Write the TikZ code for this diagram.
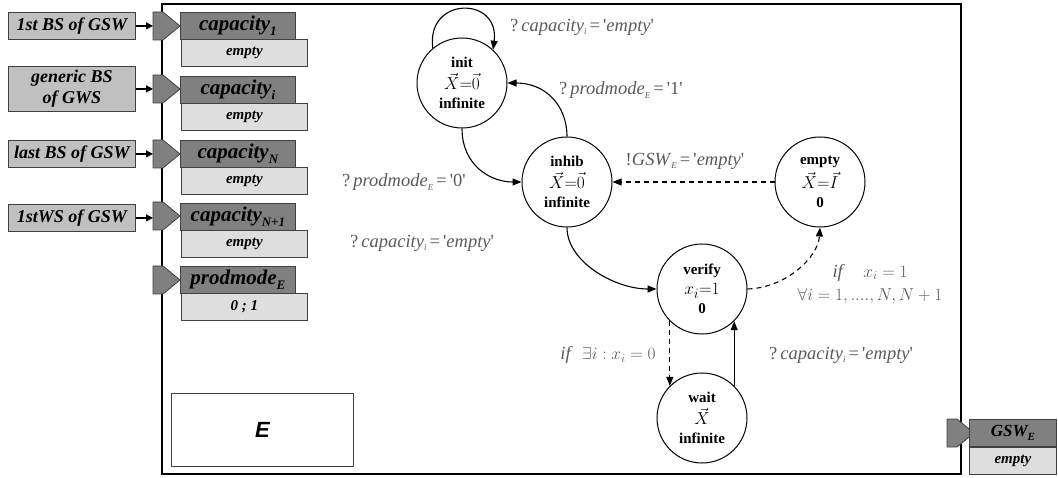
\documentclass[tikz,border=0pt]{standalone}
\usepackage{fontspec}
\setmainfont{Liberation Serif}
\newfontfamily\arialfont{Liberation Sans}
\newfontfamily\qfont{Liberation Serif}[Ligatures=TeXOff]
\usetikzlibrary{arrows.meta}
\definecolor{inboxcol}{HTML}{C0C0C0}
\definecolor{darkcol}{HTML}{808080}
\definecolor{lightcol}{HTML}{DEDEDE}
\definecolor{bordcol}{HTML}{404040}
\definecolor{labcol}{HTML}{5A5A5A}
\newcommand\lsub[2][9]{\raisebox{-0.45ex}{\fontsize{#1}{#1}\selectfont #2}}
\newcommand\sq{{\qfont\upshape'}}
\newcommand\stmath[1]{{\fontsize{19}{19}\selectfont$#1$}}
\newcommand\portshape[2]{%
  \filldraw[fill=darkcol,draw=bordcol,line width=0.8pt] (#1,#2) -- ++(10,0) -- ++(17,14) -- ++(-17,14) -- ++(-10,0) -- cycle;}
\tikzset{
  inbox/.style={draw=bordcol,line width=0.8pt,fill=inboxcol,anchor=north west,inner sep=0pt,minimum width=127pt,align=center,
    font=\fontsize{18}{21}\selectfont\bfseries\itshape},
  darkbox/.style={draw=bordcol,line width=0.8pt,fill=darkcol,anchor=north west,inner sep=0pt,minimum height=27pt,
    font=\fontsize{21}{22}\selectfont\bfseries\itshape},
  lightbox/.style={draw=bordcol,line width=0.8pt,fill=lightcol,anchor=north west,inner sep=0pt,minimum height=27pt,
    font=\fontsize{15}{17}\selectfont\bfseries\itshape},
  state/.style={draw,circle,line width=1pt,minimum size=90pt,inner sep=0pt,align=center,
    font=\fontsize{15}{19}\selectfont},
  inarrow/.style={line width=1.5pt,-{Triangle[length=7pt,width=7pt]}},
  tr/.style={line width=1.1pt,-{Triangle[length=9pt,width=7pt]}},
  trd/.style={tr,dash pattern=on 5pt off 4pt},
  lab/.style={text=labcol,inner sep=0pt,font=\fontsize{18.5}{23}\selectfont,align=center}
}
\begin{document}
\begin{tikzpicture}[x=1pt,y=-1pt]
\useasboundingbox (0,0) rectangle (1058,478);
% main frame
\draw[line width=2pt] (162,4) rectangle (961,474);
% input boxes
\node[inbox,minimum height=27pt] (in1) at (8,12) {1st BS of GSW};
\node[inbox,minimum height=45pt] (in2) at (8,66) {generic BS\\of GWS};
\node[inbox,minimum height=27pt] (in3) at (8,140) {last BS of GSW};
\node[inbox,minimum height=27pt] (in4) at (8,204) {1stWS of GSW};
% ports
\portshape{153}{12}\portshape{153}{75}\portshape{153}{140}\portshape{153}{202}\portshape{153}{266}
\coordinate (p1) at (153,26);
\coordinate (p2) at (153,89);
\coordinate (p3) at (153,154);
\coordinate (p4) at (153,216);
\draw[inarrow] (in1.east) -- (in1.east -| p1);
\draw[inarrow] (in2.east) -- (in2.east -| p2);
\draw[inarrow] (in3.east) -- (in3.east -| p3);
\draw[inarrow] (in4.east) -- (in4.east -| p4);
% variable boxes
\node[darkbox,minimum width=115pt] (c1) at (180,12) {capacity\lsub[13]{1}};
\node[lightbox,minimum width=126pt] (e1) at (181,39) {empty};
\node[darkbox,minimum width=115pt] (c2) at (180,76) {capacity\lsub[13]{i}};
\node[lightbox,minimum width=126pt] (e2) at (181,103) {empty};
\node[darkbox,minimum width=115pt] (c3) at (180,140) {capacity\lsub[13]{N}};
\node[lightbox,minimum width=126pt] (e3) at (181,167) {empty};
\node[darkbox,minimum width=115pt] (c4) at (180,203) {capacity\lsub[13]{N+1}};
\node[lightbox,minimum width=126pt] (e4) at (181,230) {empty};
\node[darkbox,minimum width=115pt] (c5) at (180,266) {prodmode\lsub[13]{E}};
\node[lightbox,minimum width=126pt] (e5) at (181,293) {0 ; 1};
% output
\portshape{947}{419}
\node[darkbox,minimum width=87pt,font=\fontsize{17}{19}\selectfont\bfseries\itshape] (g1) at (969,419) {GSW\lsub[11]{E}};
\node[lightbox,minimum width=87pt] (g2) at (969,447) {empty};
% E box
\node[draw=bordcol,line width=0.8pt,fill=white,minimum width=182pt,minimum height=73pt,anchor=north west,inner sep=0pt,
  font=\arialfont\fontsize{22}{22}\selectfont\bfseries\itshape] (ebox) at (171,393) {E};
% states
\node[state] (init) at (462,83) {\textbf{init}\\[3pt]\stmath{\vec{X}{=}\vec{0}}\\\textbf{infinite}};
\node[state] (inhib) at (567,182) {\textbf{inhib}\\[3pt]\stmath{\vec{X}{=}\vec{0}}\\\textbf{infinite}};
\node[state] (empty) at (820,182) {\textbf{empty}\\[3pt]\stmath{\vec{X}{=}\vec{I}}\\\textbf{0}};
\node[state] (verify) at (702,289) {\textbf{verify}\\[1pt]\stmath{x_i{=}1}\\\textbf{0}};
\node[state] (wait) at (702,418) {\textbf{wait}\\[3pt]\stmath{\vec{X}}\\\textbf{infinite}};
% transitions
\draw[tr] (init.130) .. controls (426,-4) and (500,-4) .. (init.47);
\draw[tr] (inhib.north) .. controls (567,105) and (545,83) .. (init.east);
\draw[tr] (init.south) .. controls (462,165) and (490,182) .. (inhib.west);
\draw[trd] (empty.west) -- (inhib.east);
\draw[tr] (inhib.south) .. controls (567,262) and (615,289) .. (verify.west);
\draw[trd] (verify.east) .. controls (785,288) and (818,258) .. (empty.south);
\draw[trd] (verify.-135) -- (wait.135);
\draw[tr] (wait.45) -- (verify.-45);
% labels
\node[lab] (l1) at (582,27) {?\,\textit{capacity}\lsub{\textit{i}}\,=\,\sq\textit{empty}\sq};
\node[lab] (l2) at (621,90) {?\,\textit{prodmode}\lsub{\textit{E}}\,=\,\sq 1\sq};
\node[lab] (l3) at (404,182) {?\,\textit{prodmode}\lsub{\textit{E}}\,=\,\sq 0\sq};
\node[lab] (l4) at (685,161) {!\textit{GSW}\lsub{\textit{E}}\,=\,\sq\textit{empty}\sq};
\node[lab] (l5) at (422,243) {?\,\textit{capacity}\lsub{\textit{i}}\,=\,\sq\textit{empty}\sq};
\node[lab] (l6) at (870,284) {\textit{if}\quad$x_{i}=1$\\$\forall i=1,....,N,N+1$};
\node[lab] (l7) at (608,355) {\textit{if}\ \ $\exists i: x_{i}=0$};
\node[lab] (l8) at (841,355) {?\,\textit{capacity}\lsub{\textit{i}}\,=\,\sq\textit{empty}\sq};
\end{tikzpicture}
\end{document}
